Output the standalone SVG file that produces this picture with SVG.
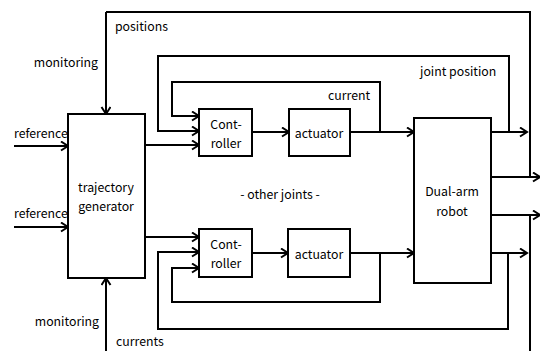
<svg xmlns="http://www.w3.org/2000/svg" width="540" height="351" viewBox="0 0 540 351">
<style>
.box{fill:#fff;stroke:#000;stroke-width:2}
.ln{fill:none;stroke:#000;stroke-width:2}
.lnA{fill:none;stroke:#000;stroke-width:2;marker-end:url(#arr)}
text{font-family:"Noto Sans CJK KR","Liberation Sans",sans-serif;font-size:12.3px;fill:#000}
.c{text-anchor:middle}
.e{text-anchor:end}
</style>
<defs>
<marker id="arr" markerUnits="userSpaceOnUse" markerWidth="12" markerHeight="12" refX="9" refY="5" orient="auto">
<path d="M2,0.5 L9,5 L2,9.5" fill="none" stroke="#000" stroke-width="2"/>
</marker>
</defs>
<rect width="540" height="351" fill="#fff"/>
<g id="connectors">
<path class="lnA" d="M14,146 H68"/>
<path class="lnA" d="M14,227 H68"/>
<path class="ln" d="M530,177 V12 H106"/>
<path class="lnA" d="M106,12 V114"/>
<path class="ln" d="M530,215 V351"/>
<path class="lnA" d="M106,351 V278"/>
<path class="lnA" d="M145,145 H199"/>
<path class="lnA" d="M380,132 V82 H172 V116 H199"/>
<path class="lnA" d="M509,132 V56 H158 V131 H199"/>
<path class="lnA" d="M252,132 H289"/>
<path class="lnA" d="M350,132 H414"/>
<path class="lnA" d="M491,132 H527"/>
<path class="lnA" d="M491,177 H540"/>
<path class="lnA" d="M491,215 H540"/>
<path class="lnA" d="M145,237 H199"/>
<path class="lnA" d="M508,253 V329 H158 V252 H199"/>
<path class="lnA" d="M380,253 V302 H172 V268 H199"/>
<path class="lnA" d="M252,253 H288"/>
<path class="lnA" d="M350,253 H414"/>
<path class="lnA" d="M491,253 H527"/>
</g>
<g id="trajectory-generator">
<rect class="box" x="68" y="114" width="77" height="164"/>
<text class="c" x="106" y="192">trajectory</text>
<text class="c" x="106" y="211">generator</text>
</g>
<g id="controller-top">
<rect class="box" x="199" y="109" width="53" height="47"/>
<text class="c" x="226" y="129">Cont-</text>
<text class="c" x="226" y="148">roller</text>
</g>
<g id="actuator-top">
<rect class="box" x="289" y="109" width="61" height="47"/>
<text class="c" x="319" y="138">actuator</text>
</g>
<g id="controller-bottom">
<rect class="box" x="199" y="229" width="53" height="48"/>
<text class="c" x="226" y="249">Cont-</text>
<text class="c" x="226" y="268">roller</text>
</g>
<g id="actuator-bottom">
<rect class="box" x="288" y="229" width="62" height="48"/>
<text class="c" x="319" y="259">actuator</text>
</g>
<g id="dual-arm-robot">
<rect class="box" x="414" y="118" width="77" height="165"/>
<text class="c" x="452" y="196">Dual-arm</text>
<text class="c" x="452" y="216">robot</text>
</g>
<g id="labels">
<text x="115" y="31">positions</text>
<text class="e" x="98" y="67">monitoring</text>
<text x="14" y="138">reference</text>
<text x="14" y="218">reference</text>
<text x="328" y="100">current</text>
<text x="420" y="76">joint position</text>
<text class="c" x="280" y="199">- other joints -</text>
<text class="e" x="99" y="326">monitoring</text>
<text x="116" y="346">currents</text>
</g>
</svg>
